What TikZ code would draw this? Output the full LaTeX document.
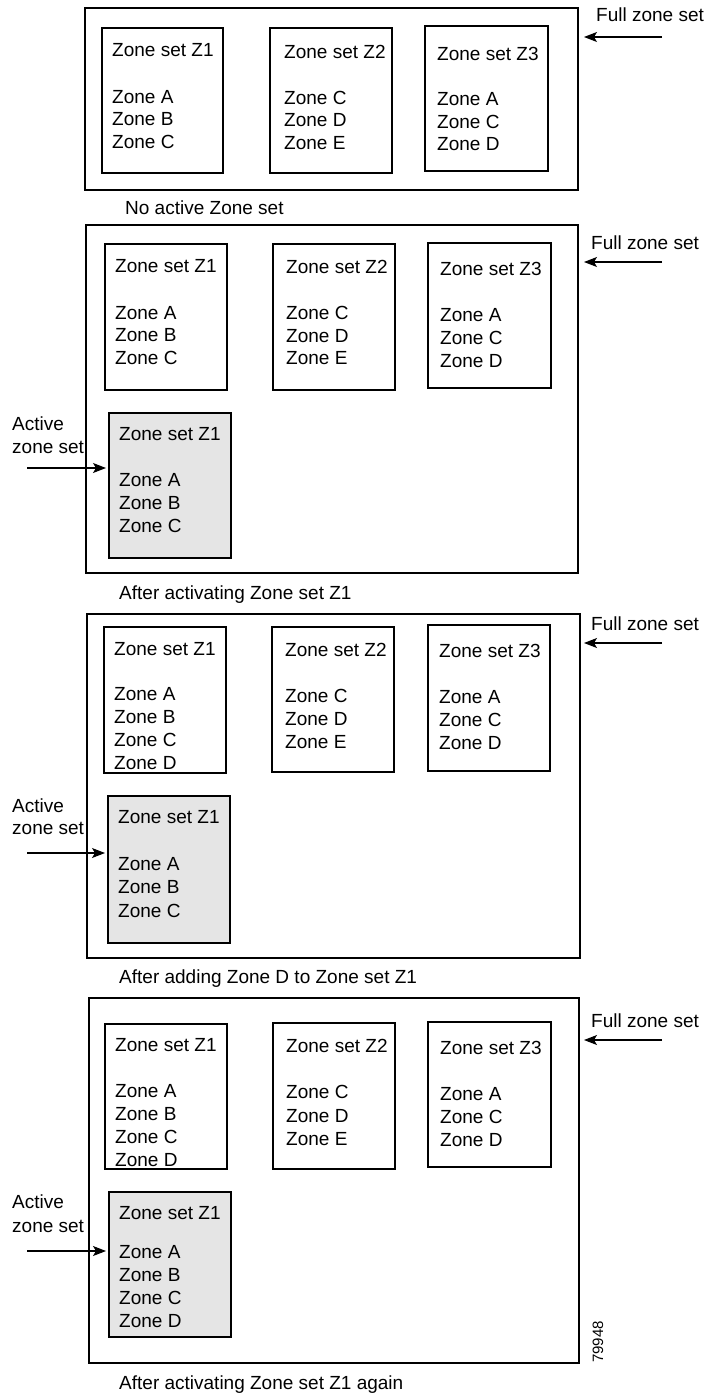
\documentclass[tikz,border=0pt]{standalone}
\usepackage{fontspec}
\setmainfont{Liberation Sans}
\usetikzlibrary{fit,arrows.meta}
\tikzset{
  outerbox/.style={draw, line width=1.2pt, inner sep=0pt, fit={#1}},
  zsbox/.style={draw, line width=1.2pt, inner sep=0pt, fit={#1}},
  activebox/.style={draw, line width=1.2pt, fill=gray!20, inner sep=0pt, fit={#1}},
  txt/.style={anchor=base west, inner sep=0pt, font=\fontsize{19}{23}\selectfont},
  ptr/.style={line width=1.1pt, -{Stealth[length=13pt,width=10pt,inset=3pt]}},
}
\newcommand\tline[4]{\node[txt] (#1) at (#2,#3+6.5) {#4};}
\begin{document}
\begin{tikzpicture}[x=1pt,y=-1pt]
\useasboundingbox (0,0) rectangle (706,1395);
% ---------------- Panel 1 ----------------
\node[outerbox={(85,8)(578,190)}] (aO) {};
\node[zsbox={(102,28)(223,173)}] (aZ1) {};
\node[zsbox={(270,28)(392,173)}] (aZ2) {};
\node[zsbox={(425,26)(548,171)}] (aZ3) {};
\tline{a1t}{112}{50}{Zone set Z1}
\tline{a1a}{112}{97}{Zone A}
\tline{a1b}{112}{119}{Zone B}
\tline{a1c}{112}{142}{Zone C}
\tline{a2t}{284}{52}{Zone set Z2}
\tline{a2a}{284}{98}{Zone C}
\tline{a2b}{284}{120}{Zone D}
\tline{a2c}{284}{143}{Zone E}
\tline{a3t}{437}{54}{Zone set Z3}
\tline{a3a}{437}{99}{Zone A}
\tline{a3b}{437}{122}{Zone C}
\tline{a3c}{437}{144}{Zone D}
\tline{aF}{596}{15}{Full zone set}
\coordinate (aFt) at (662,37);
\coordinate (aFh) at (584,37);
\draw[ptr] (aFt) -- (aFh);
\tline{aCap}{125}{208}{No active Zone set}
% ---------------- Panel 2 ----------------
\node[outerbox={(86,225)(578,573)}] (bO) {};
\node[zsbox={(105,244)(227,390)}] (bZ1) {};
\node[zsbox={(273,244)(395,390)}] (bZ2) {};
\node[zsbox={(428,243)(551,388)}] (bZ3) {};
\node[activebox={(109,413)(231,558)}] (bG) {};
\tline{b1t}{115}{266}{Zone set Z1}
\tline{b1a}{115}{313}{Zone A}
\tline{b1b}{115}{335}{Zone B}
\tline{b1c}{115}{358}{Zone C}
\tline{b2t}{286}{267}{Zone set Z2}
\tline{b2a}{286}{313}{Zone C}
\tline{b2b}{286}{336}{Zone D}
\tline{b2c}{286}{358}{Zone E}
\tline{b3t}{440}{269}{Zone set Z3}
\tline{b3a}{440}{315}{Zone A}
\tline{b3b}{440}{338}{Zone C}
\tline{b3c}{440}{361}{Zone D}
\tline{bgt}{119}{434}{Zone set Z1}
\tline{bga}{119}{480}{Zone A}
\tline{bgb}{119}{503}{Zone B}
\tline{bgc}{119}{526}{Zone C}
\tline{bF}{591}{243}{Full zone set}
\coordinate (bFt) at (662,262);
\coordinate (bFh) at (584,262);
\draw[ptr] (bFt) -- (bFh);
\tline{bA1}{12}{424}{Active}
\tline{bA2}{12}{447}{zone set}
\coordinate (bAt) at (27,468);
\coordinate (bAh) at (106,468);
\draw[ptr] (bAt) -- (bAh);
\tline{bCap}{119}{593}{After activating Zone set Z1}
% ---------------- Panel 3 ----------------
\node[outerbox={(87,614)(580,958)}] (cO) {};
\node[zsbox={(104,627)(226,773)}] (cZ1) {};
\node[zsbox={(272,627)(394,772)}] (cZ2) {};
\node[zsbox={(428,625)(550,771)}] (cZ3) {};
\node[activebox={(108,796)(230,943)}] (cG) {};
\tline{c1t}{114}{649}{Zone set Z1}
\tline{c1a}{114}{694}{Zone A}
\tline{c1b}{114}{717}{Zone B}
\tline{c1c}{114}{740}{Zone C}
\tline{c1d}{114}{763}{Zone D}
\tline{c2t}{285}{650}{Zone set Z2}
\tline{c2a}{285}{696}{Zone C}
\tline{c2b}{285}{719}{Zone D}
\tline{c2c}{285}{742}{Zone E}
\tline{c3t}{439}{651}{Zone set Z3}
\tline{c3a}{439}{697}{Zone A}
\tline{c3b}{439}{720}{Zone C}
\tline{c3c}{439}{743}{Zone D}
\tline{cgt}{118}{817}{Zone set Z1}
\tline{cga}{118}{864}{Zone A}
\tline{cgb}{118}{887}{Zone B}
\tline{cgc}{118}{911}{Zone C}
\tline{cF}{591}{624}{Full zone set}
\coordinate (cFt) at (662,643);
\coordinate (cFh) at (584,643);
\draw[ptr] (cFt) -- (cFh);
\tline{cA1}{12}{806}{Active}
\tline{cA2}{12}{828}{zone set}
\coordinate (cAt) at (27,853);
\coordinate (cAh) at (105,853);
\draw[ptr] (cAt) -- (cAh);
\tline{cCap}{119}{977}{After adding Zone D to Zone set Z1}
% ---------------- Panel 4 ----------------
\node[outerbox={(89,998)(579,1363)}] (dO) {};
\node[zsbox={(105,1024)(227,1169)}] (dZ1) {};
\node[zsbox={(273,1023)(395,1169)}] (dZ2) {};
\node[zsbox={(428,1022)(551,1167)}] (dZ3) {};
\node[activebox={(109,1192)(231,1337)}] (dG) {};
\tline{d1t}{115}{1045}{Zone set Z1}
\tline{d1a}{115}{1091}{Zone A}
\tline{d1b}{115}{1114}{Zone B}
\tline{d1c}{115}{1137}{Zone C}
\tline{d1d}{115}{1160}{Zone D}
\tline{d2t}{286}{1046}{Zone set Z2}
\tline{d2a}{286}{1092}{Zone C}
\tline{d2b}{286}{1116}{Zone D}
\tline{d2c}{286}{1139}{Zone E}
\tline{d3t}{440}{1048}{Zone set Z3}
\tline{d3a}{440}{1094}{Zone A}
\tline{d3b}{440}{1117}{Zone C}
\tline{d3c}{440}{1140}{Zone D}
\tline{dgt}{119}{1213}{Zone set Z1}
\tline{dga}{119}{1252}{Zone A}
\tline{dgb}{119}{1275}{Zone B}
\tline{dgc}{119}{1298}{Zone C}
\tline{dgd}{119}{1321}{Zone D}
\tline{dF}{591}{1021}{Full zone set}
\coordinate (dFt) at (662,1040);
\coordinate (dFh) at (584,1040);
\draw[ptr] (dFt) -- (dFh);
\tline{dA1}{12}{1202}{Active}
\tline{dA2}{12}{1226}{zone set}
\coordinate (dAt) at (27,1251);
\coordinate (dAh) at (106,1251);
\draw[ptr] (dAt) -- (dAh);
\tline{dCap}{119}{1383}{After activating Zone set Z1 again}
\node[rotate=90, inner sep=0pt, font=\fontsize{15}{18}\selectfont] (fig) at (598,1342) {79948};
\end{tikzpicture}
\end{document}
